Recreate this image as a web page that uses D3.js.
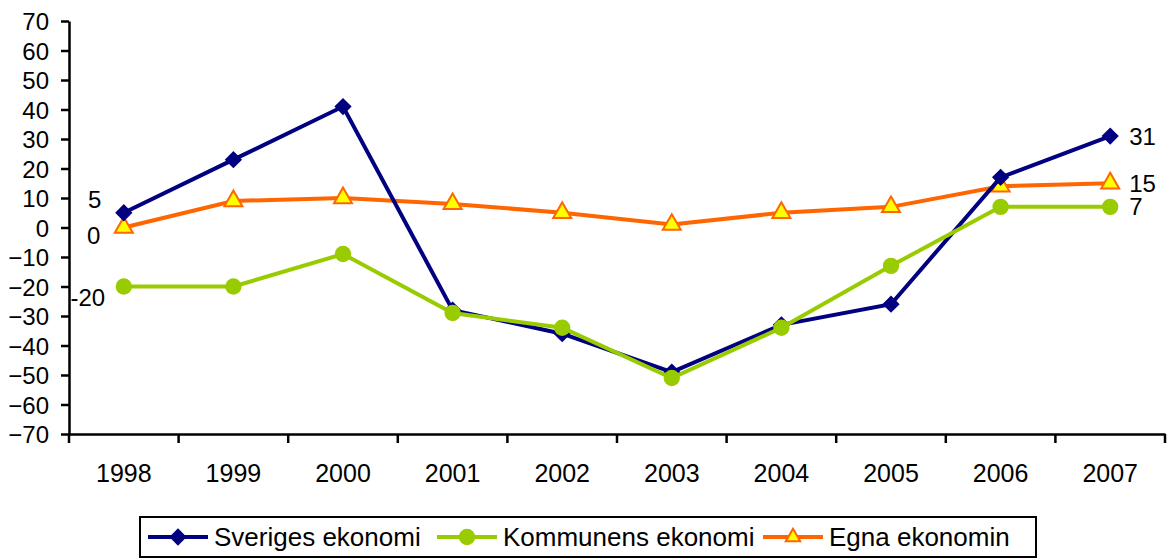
<!doctype html>
<html>
<head>
<meta charset="utf-8">
<script src="https://cdnjs.cloudflare.com/ajax/libs/d3/7.8.5/d3.min.js"></script>
<style>
  body { margin: 0; background: #fff; }
  svg text { font-family: "Liberation Sans", Arial, sans-serif; fill: #000; }
</style>
</head>
<body>
<svg id="chart" width="1169" height="559"></svg>
<script>
var years = ["1998","1999","2000","2001","2002","2003","2004","2005","2006","2007"];
var sverige = [5, 23, 41, -28, -36, -49, -33, -26, 17, 31];
var kommun = [-20, -20, -9, -29, -34, -51, -34, -13, 7, 7];
var egna = [0, 9, 10, 8, 5, 1, 5, 7, 14, 15];
var yTicks = [70, 60, 50, 40, 30, 20, 10, 0, -10, -20, -30, -40, -50, -60, -70];
var names = ["Sveriges ekonomi", "Kommunens ekonomi", "Egna ekonomin"];

var series = [
  {name: names[0], values: sverige, color: "#000080", marker: "diamond"},
  {name: names[1], values: kommun, color: "#99CC00", marker: "circle"},
  {name: names[2], values: egna, color: "#FF6600", marker: "triangle"}
];

var svg = d3.select("#chart");
var plotLeft = 69, plotRight = 1165, plotTop = 21, plotBottom = 434;
var fontFam = "Liberation Sans, Arial, sans-serif";

var x = d3.scaleBand().domain(years).range([plotLeft, plotRight]);
var y = d3.scaleLinear().domain([-70, 70]).range([plotBottom, plotTop]);

// y axis
var yAxis = svg.append("g").attr("transform", "translate(" + plotLeft + ",0)")
  .call(d3.axisLeft(y).tickValues(yTicks).tickSize(8).tickSizeOuter(0).tickFormat(d3.format("d")));
yAxis.select(".domain").attr("stroke", "#000").attr("stroke-width", 2.5);
yAxis.selectAll(".tick line").attr("stroke", "#000").attr("stroke-width", 2.5);
yAxis.selectAll(".tick text").attr("font-size", 24).attr("x", -20).attr("dy", "0.36em")
  .style("font-family", fontFam);

// x axis
var xAxis = svg.append("g").attr("transform", "translate(0," + plotBottom + ")")
  .call(d3.axisBottom(x).tickSize(0));
xAxis.select(".domain").attr("stroke", "#000").attr("stroke-width", 2.5);
xAxis.selectAll(".tick text").attr("font-size", 25).attr("y", 48).attr("dy", 0)
  .style("font-family", fontFam);
// ticks at category boundaries
var bounds = years.map(function(d) { return x(d); }).concat([plotRight]);
svg.append("g").selectAll("line").data(bounds).enter().append("line")
  .attr("x1", function(d) { return d; }).attr("x2", function(d) { return d; })
  .attr("y1", plotBottom).attr("y2", plotBottom + 9)
  .attr("stroke", "#000").attr("stroke-width", 2.5);

var cx = function(d, i) { return x(years[i]) + x.bandwidth() / 2; };
var line = d3.line().x(cx).y(function(d) { return y(d); });

var symbolFor = {
  diamond: d3.symbol().type(d3.symbolDiamond2).size(190),
  circle: d3.symbol().type(d3.symbolCircle).size(210),
  triangle: d3.symbol().type(d3.symbolTriangle).size(140)
};

function drawMarker(g, s) {
  if (s.marker === "diamond") {
    g.attr("d", symbolFor.diamond).attr("fill", s.color).attr("stroke", "none");
  } else if (s.marker === "circle") {
    g.attr("d", symbolFor.circle).attr("fill", s.color).attr("stroke", "none");
  } else {
    g.attr("d", symbolFor.triangle).attr("fill", "#FFFF00").attr("stroke", s.color).attr("stroke-width", 2);
  }
}

[series[2], series[0], series[1]].forEach(function(s) {
  svg.append("path").datum(s.values).attr("d", line)
    .attr("fill", "none").attr("stroke", s.color).attr("stroke-width", 4);
  svg.append("g").selectAll("path").data(s.values).enter().append("path")
    .attr("transform", function(d, i) { return "translate(" + cx(d, i) + "," + y(d) + ")"; })
    .each(function() { drawMarker(d3.select(this), s); });
});

// data labels on first and last points
var firstX = cx(null, 0), lastX = cx(null, years.length - 1);
var firstLabels = [
  {v: sverige[0], dx: -29, dy: -13},
  {v: egna[0], dx: -30, dy: 8},
  {v: kommun[0], dx: -36, dy: 11}
];
svg.append("g").selectAll("text").data(firstLabels).enter().append("text")
  .attr("x", function(d) { return firstX + d.dx; })
  .attr("y", function(d) { return y(d.v) + d.dy; })
  .attr("text-anchor", "middle").attr("dy", "0.36em")
  .attr("font-size", 24).text(function(d) { return d.v; });
var lastLabels = [sverige[9], egna[9], kommun[9]];
svg.append("g").selectAll("text").data(lastLabels).enter().append("text")
  .attr("x", lastX + 19).attr("y", function(d) { return y(d); }).attr("dy", "0.36em")
  .attr("font-size", 24).text(function(d) { return d; });

// legend
var legend = svg.append("g");
legend.append("rect").attr("x", 140).attr("y", 517).attr("width", 896).attr("height", 40)
  .attr("fill", "#fff").attr("stroke", "#000").attr("stroke-width", 2);
var legendX = [148, 437, 763];
series.forEach(function(s, i) {
  var g = legend.append("g").attr("transform", "translate(" + legendX[i] + ",537)");
  g.append("line").attr("x1", 0).attr("x2", 60).attr("stroke", s.color).attr("stroke-width", 4);
  var m = g.append("path").attr("transform", "translate(30,0)");
  drawMarker(m, s);
  if (s.marker === "triangle") m.attr("d", d3.symbol().type(d3.symbolTriangle).size(90));
  g.append("text").attr("x", 66).attr("y", 0).attr("dy", "0.36em")
    .attr("font-size", 26).text(s.name);
});
</script>
</body>
</html>
